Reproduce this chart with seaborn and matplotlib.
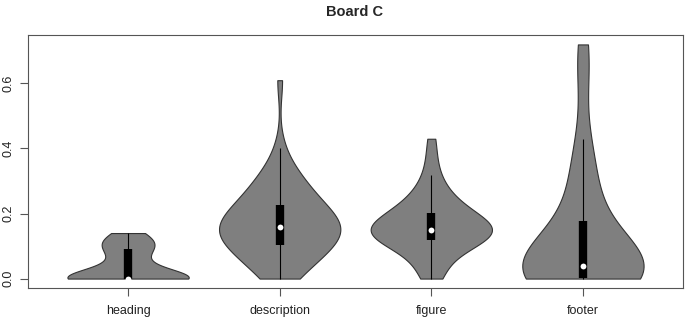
import numpy as np
import pandas as pd
import matplotlib
matplotlib.use("Agg")
import matplotlib.pyplot as plt
import seaborn as sns

categories = ["heading", "description", "figure", "footer"]

heading = [0.0] * 21 + [0.01, 0.02, 0.03, 0.04, 0.05, 0.06, 0.07, 0.08,
                        0.09, 0.095, 0.10, 0.10, 0.11, 0.11, 0.12, 0.12, 0.13, 0.14, 0.14]
description = [0.00, 0.01, 0.02, 0.03, 0.04, 0.05, 0.06, 0.07, 0.08, 0.09, 0.09, 0.10,
               0.10, 0.11, 0.11, 0.12, 0.12, 0.13, 0.13, 0.14, 0.14, 0.15, 0.15, 0.16, 0.16,
               0.16, 0.17, 0.17, 0.18, 0.18, 0.19, 0.19, 0.20, 0.20, 0.21, 0.22, 0.22,
               0.23, 0.24, 0.25, 0.26, 0.27, 0.28, 0.29, 0.30, 0.31, 0.33, 0.35, 0.40, 0.61]
figure = [0.00, 0.01, 0.03, 0.05, 0.07, 0.09, 0.11, 0.11, 0.12, 0.12,
          0.12, 0.13, 0.13, 0.13, 0.14, 0.14, 0.14, 0.14, 0.15, 0.15,
          0.15, 0.16, 0.16, 0.17, 0.17, 0.18, 0.18, 0.19, 0.19, 0.20,
          0.21, 0.22, 0.23, 0.24, 0.25, 0.27, 0.29, 0.32, 0.37, 0.43]
footer = [0.0] * 11 + [0.01, 0.01, 0.02, 0.02, 0.03, 0.03, 0.04, 0.04, 0.04, 0.04, 0.04,
                       0.05, 0.06, 0.07, 0.08, 0.09, 0.10, 0.12, 0.14, 0.17, 0.18,
                       0.21, 0.25, 0.28, 0.31, 0.35, 0.39, 0.43, 0.60, 0.68, 0.72]

y_ticks = [0.0, 0.2, 0.4, 0.6]
y_tick_labels = ["0.0", "0.2", "0.4", "0.6"]
title = "Board C"

rows = []
for cat, vals in zip(categories, [heading, description, figure, footer]):
    for v in vals:
        rows.append((cat, v))
df = pd.DataFrame(rows, columns=["section", "value"])

sns.set_style("white")
plt.rcParams["font.family"] = ["Liberation Sans", "DejaVu Sans"]

fig = plt.figure(figsize=(6.85, 3.17), dpi=100)
ax = fig.add_axes([28 / 685, (317 - 288) / 317, (683 - 28) / 685, (288 - 35) / 317])

sns.violinplot(data=df, x="section", y="value", order=categories, cut=0,
               density_norm="width", width=0.8, color="#7f7f7f", saturation=1,
               linecolor="#333333", linewidth=0.8, inner="box", bw_adjust=1.1,
               inner_kws=dict(box_width=6, whis_width=0.8, marker="o",
                              color="black", solid_capstyle="butt"), ax=ax)

# median dots: smaller white points as in the reference
for ln in ax.lines:
    if ln.get_marker() == "o":
        ln.set_markersize(4.2)
        ln.set_markeredgewidth(0)
        ln.set_markerfacecolor("white")
        ln.set_zorder(5)

ax.set_xlim(-0.66, 3.66)
ax.set_ylim(-0.029, 0.749)
ax.set_yticks(y_ticks)
ax.set_yticklabels(y_tick_labels, rotation=90, va="center")
ax.set_xlabel("")
ax.set_ylabel("")
for s in ax.spines.values():
    s.set_visible(True)
    s.set_color("#555555")
    s.set_linewidth(0.8)
ax.tick_params(axis="both", which="both", direction="out", length=6, width=0.8,
               color="#555555", labelsize=9, labelcolor="#222222", bottom=True, left=True)
ax.tick_params(axis="x", pad=6)
ax.tick_params(axis="y", pad=4)
fig.suptitle(title, x=355 / 685, y=0.985, fontsize=10.5, fontweight="bold", va="top")

fig.savefig("out.png", dpi=100, facecolor="white")
